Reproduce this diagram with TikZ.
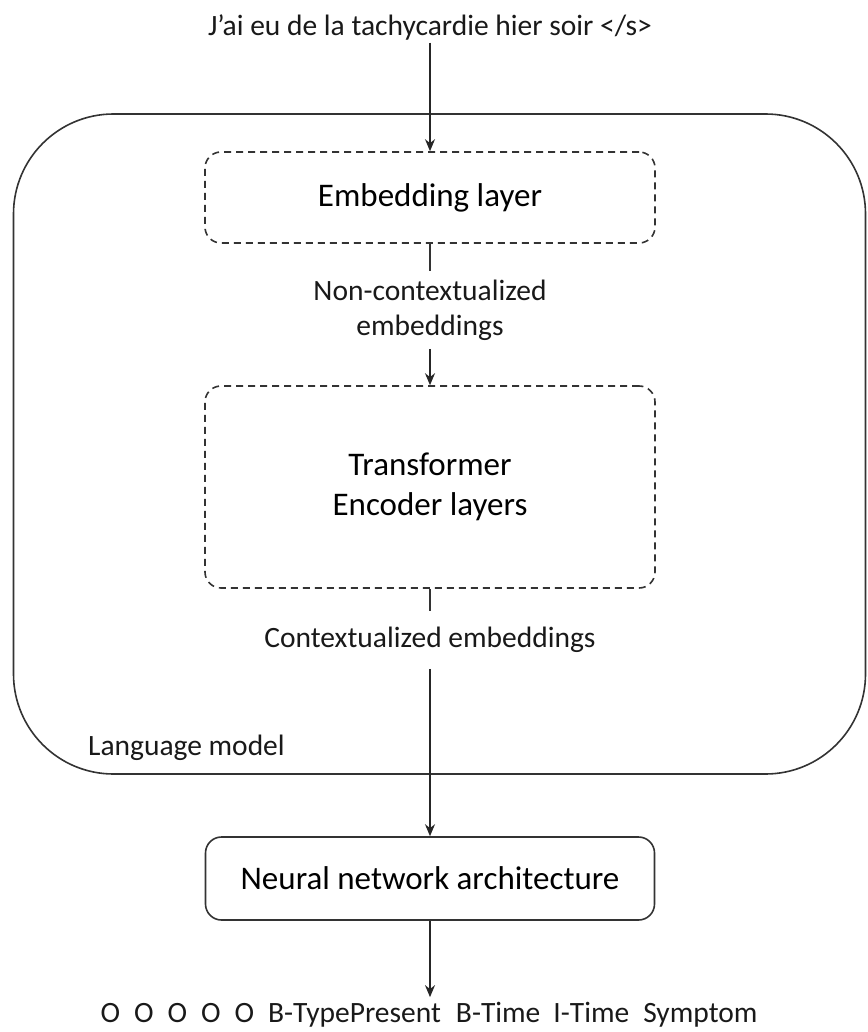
\documentclass[tikz,border=0pt]{standalone}
\usepackage{fontspec}
\setmainfont{Carlito}
\usetikzlibrary{arrows.meta,positioning}

\begin{document}
\begin{tikzpicture}[x=1pt,y=-1pt,
        line width=1.6pt, draw=black!80,
        layerbox/.style={draw=black!80, dash pattern=on 7pt off 5pt, rounded corners=16pt,
            minimum width=450pt, align=center, font=\fontsize{33}{40}\selectfont},
        solidbox/.style={draw=black!80, rounded corners=16pt, minimum width=449pt,
            align=center, font=\fontsize{33}{40}\selectfont},
        smalltext/.style={font=\fontsize{29.5}{35}\selectfont, align=center, text=black!90},
        flow/.style={-{Stealth[length=12pt,width=10pt]}, black!85}]
        % Fix the page size
        \useasboundingbox (0,0) rectangle (867,1032);

        % Language model frame
        \node[draw=black!80, rounded corners=100pt, minimum width=852pt, minimum height=660pt] (lm) at (439.5,444) {};
        \node[smalltext, anchor=west] (lmlabel) at (84,748) {Language model};

        % Input sentence
        \node[smalltext, inner ysep=2pt] (sentence) at (430,27) {J’ai eu de la tachycardie hier soir </s>};

        % Layers
        \node[layerbox, minimum height=91pt] (embed) at (430,197.5) {Embedding layer};
        \node[smalltext, minimum height=76pt, inner ysep=0pt] (noncontext) at (430,310) {Non-contextualized\\embeddings};
        \node[layerbox, minimum height=202pt] (encoder) at (430,487) {Transformer\\Encoder layers};
        \node[smalltext, minimum height=56pt, inner ysep=0pt] (context) at (430,640) {Contextualized embeddings};
        \node[solidbox, minimum height=83pt] (nnet) at (430,878.5) {Neural network architecture};

        % Output tags
        \node[smalltext, outer ysep=2pt] (tags) at (429,1015) {O\hspace{14pt}O\hspace{14pt}O\hspace{14pt}O\hspace{14pt}O\hspace{14pt}B-TypePresent\hspace{15pt}B-Time\hspace{13pt}I-Time\hspace{14pt}Symptom};

        % Connections
        \draw[flow] (sentence) -- (embed);
        \draw (embed) -- (noncontext);
        \draw[flow] (noncontext) -- (encoder);
        \draw (encoder) -- (context);
        \draw[flow] (context) -- (nnet);
        \draw[flow] (nnet.south) -- (nnet.south |- tags.north);
    \end{tikzpicture}
\end{document}
